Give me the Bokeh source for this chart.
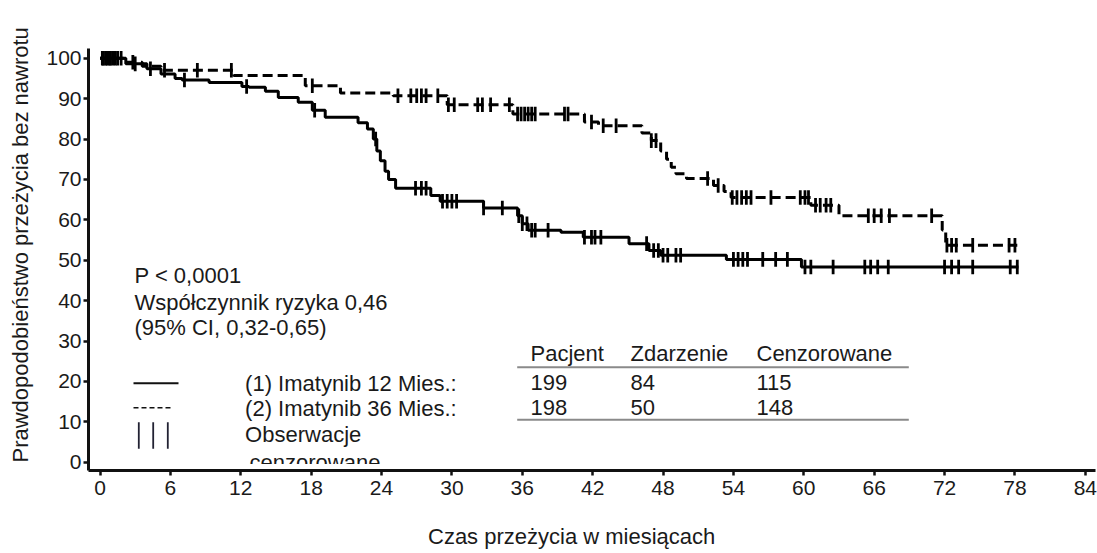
import numpy as np
from bokeh.plotting import figure
from bokeh.models import Range1d, FixedTicker, Title, ColumnDataSource
from bokeh.core.properties import value
from bokeh.embed import file_html
from bokeh.resources import INLINE

# ---------------- data ----------------
# Arm 1: Imatinib 12 months (solid)
times_12 = [0, 2.2, 4.0, 5.2, 6.4, 7.0, 9.3, 12.1, 12.7, 14.1, 15.2, 16.9, 18.1, 19.2,
            22.0, 22.8, 23.3, 23.6, 23.9, 24.3, 24.6, 25.2, 28.2, 29.0, 32.7, 35.6,
            36.0, 36.5, 39.3, 41.2, 45.1, 46.8, 47.8, 53.4, 59.8]
surv_12 = [100, 98.6, 97.4, 96.1, 95.0, 94.6, 94.0, 93.0, 92.8, 91.8, 90.3, 89.1, 87.1, 85.4,
           84.0, 82.5, 80.0, 77.0, 74.6, 72.0, 70.0, 67.8, 66.0, 64.6, 62.9, 61.0,
           59.0, 57.4, 56.9, 55.7, 54.1, 52.4, 51.2, 50.2, 48.3]
end_12 = 78.3
cens_12 = [0.3, 0.6, 0.9, 1.3, 1.8, 3.0, 4.3, 7.2, 12.5, 18.3, 23.5, 26.9, 27.4, 27.8,
           29.2, 29.6, 30.0, 30.4, 32.7, 34.3, 35.7, 36.0, 36.4, 36.8, 37.1, 38.2,
           41.3, 41.9, 42.2, 42.7, 46.6, 47.2, 47.6, 48.0, 48.4, 49.1, 49.5, 54.0,
           54.4, 54.8, 55.2, 56.5, 57.6, 58.6, 60.1, 60.6, 62.5, 65.2, 65.7, 66.3,
           67.2, 72.0, 72.6, 73.2, 74.4, 77.6, 78.2]

# Arm 2: Imatinib 36 months (dashed)
times_36 = [0, 2.0, 3.6, 5.2, 11.4, 17.5, 20.5, 25.0, 29.6, 35.2, 41.3, 42.5, 46.2,
            47.0, 47.8, 48.3, 48.7, 49.1, 50.0, 52.3, 53.2, 53.8, 60.6, 63.0, 71.8, 72.1]
surv_36 = [100, 99.0, 98.0, 97.0, 95.7, 93.2, 91.4, 90.7, 88.5, 86.2, 84.2, 83.3, 81.5,
           79.6, 77.0, 75.0, 73.0, 71.4, 70.2, 68.5, 67.0, 65.5, 63.6, 61.0, 57.5, 53.7]
end_36 = 78.2
cens_36 = [0.2, 0.5, 0.8, 1.1, 1.5, 2.8, 5.5, 8.3, 11.2, 18.1, 25.4, 26.5, 27.0, 27.4,
           27.8, 28.8, 29.7, 30.2, 32.2, 32.6, 33.3, 34.9, 35.6, 35.9, 36.2, 36.5,
           36.8, 37.1, 39.6, 39.9, 41.9, 42.9, 44.0, 47.0, 47.4, 51.8, 52.7, 53.9,
           54.3, 54.7, 55.1, 55.5, 57.2, 59.7, 60.1, 60.4, 61.0, 61.4, 61.9, 62.3,
           65.5, 66.0, 66.6, 67.3, 70.9, 72.2, 72.6, 73.0, 74.4, 77.5, 78.0]

x_ticks = list(range(0, 85, 6))
y_ticks = list(range(0, 101, 10))

stats_lines = ["P < 0,0001", "Współczynnik ryzyka 0,46", "(95% CI, 0,32-0,65)"]
arm_labels = ["(1) Imatynib 12 Mies.:", "(2) Imatynib 36 Mies.:"]
censor_label = ["Obserwacje", "cenzorowane"]
table_header = ["Pacjent", "Zdarzenie", "Cenzorowane"]
table_rows = [["199", "84", "115"], ["198", "50", "148"]]

x_label = "Czas przeżycia w miesiącach"
y_label = "Prawdopodobieństwo przeżycia bez nawrotu"

# ---------------- layout helpers (page pixel -> data) ----------------
X0, SX = 99.5, 11.73      # page x of month 0, px per month
Y0, SY = 461.7, 4.04      # page y of 0 %, px per %
FL, FR, FT, FB = 88, 1095, 48, 470   # frame edges in page px
W, H = 1097, 553
def tx(px):
    return (px - X0) / SX
def sy(py):
    return (Y0 - py) / SY

FONT = "Liberation Sans"
TXT = "#1a1a1a"

p = figure(width=W, height=H, output_backend="svg", toolbar_location=None,
           x_range=Range1d(tx(FL), tx(FR)), y_range=Range1d(sy(FB), sy(FT)),
           min_border_left=FL, min_border_right=W - FR, min_border_top=FT,
           min_border_bottom=H - FB,
           background_fill_color="white", border_fill_color="white")
p.outline_line_color = None
p.grid.visible = False

for ax in (p.xaxis[0], p.yaxis[0]):
    ax.axis_line_width = 3
    ax.axis_line_color = "#111111"
    ax.major_tick_line_width = 2.5
    ax.major_tick_line_color = "#111111"
    ax.major_tick_in = 0
    ax.major_tick_out = 5
    ax.minor_tick_out = 0
    ax.minor_tick_in = 0
    ax.major_label_text_font = FONT
    ax.major_label_text_font_size = "21px"
    ax.major_label_text_color = TXT
p.xaxis.ticker = FixedTicker(ticks=x_ticks)
p.yaxis.ticker = FixedTicker(ticks=y_ticks)
p.xaxis.major_label_standoff = 5
p.yaxis.major_label_standoff = 2

# ---------------- curves ----------------
def add_curve(times, surv, end, cens, dash):
    xs = list(times) + [end]
    ys = list(surv) + [surv[-1]]
    p.step(xs, ys, mode="after", line_color="black", line_width=3, line_dash=dash)
    t = np.array(times)
    s = np.array(surv)
    c = np.array(cens)
    idx = np.searchsorted(t, c, side="right") - 1
    cy = s[idx]
    p.segment(x0=c, y0=cy - 1.8, x1=c, y1=cy + 1.8, line_color="black", line_width=2.8)

add_curve(times_12, surv_12, end_12, cens_12, "solid")
add_curve(times_36, surv_36, end_36, cens_36, "10 5")

# ---------------- annotation texts ----------------
txt_x, txt_y, txt = [], [], []
for i, s_ in enumerate(stats_lines):
    txt_x.append(tx(134)); txt_y.append(sy([275, 301.7, 327.3][i])); txt.append(s_)
for i, s_ in enumerate(arm_labels):
    txt_x.append(tx(244.6)); txt_y.append(sy([382.7, 408][i])); txt.append(s_)
txt_x.append(tx(244.6)); txt_y.append(sy(434.3)); txt.append(censor_label[0])
txt_x.append(tx(249)); txt_y.append(sy(462)); txt.append(censor_label[1])
col_px = [530, 630, 756]
for j, h in enumerate(table_header):
    txt_x.append(tx(col_px[j])); txt_y.append(sy(353.3)); txt.append(h)
for i, row in enumerate(table_rows):
    for j, v in enumerate(row):
        txt_x.append(tx(col_px[j])); txt_y.append(sy([381.7, 407.3][i])); txt.append(v)

src = ColumnDataSource(dict(x=txt_x, y=txt_y, text=txt))
p.text(x="x", y="y", text="text", source=src, text_font=value(FONT),
       text_font_size=value("22px"), text_color=TXT, text_align="left",
       text_baseline="middle")

# the clipped second line of the censor legend
p.quad(left=tx(240), right=tx(400), bottom=sy(475), top=sy(463.5),
       fill_color="white", line_color=None)

# legend line samples
p.segment(x0=[tx(133)], y0=[sy(382.7)], x1=[tx(178)], y1=[sy(382.7)],
          line_color="#111111", line_width=2)
p.segment(x0=[tx(133)], y0=[sy(407.3)], x1=[tx(170)], y1=[sy(407.3)],
          line_color="#111111", line_width=1.5, line_dash="5 3")
bar_px = [138.3, 152.7, 167.3]
p.segment(x0=[tx(b) for b in bar_px], y0=[sy(421.7)] * 3,
          x1=[tx(b) for b in bar_px], y1=[sy(448.3)] * 3,
          line_color="#222233", line_width=1.8)

# table rules
p.segment(x0=[tx(516.7), tx(516.7)], y0=[sy(366.7), sy(419.3)],
          x1=[tx(908.3), tx(908.3)], y1=[sy(366.7), sy(419.3)],
          line_color="#8a8a8a", line_width=2)

# ---------------- axis titles (with spacer panels) ----------------
p.add_layout(Title(text=" ", text_font_size="1px", standoff=21), "below")
p.add_layout(Title(text=x_label, align="left", offset=427.5 - FL, standoff=0,
                   text_font=FONT, text_font_size="22px", text_font_style="normal",
                   text_color=TXT), "below")
p.add_layout(Title(text=" ", text_font_size="1px", standoff=8), "left")
p.add_layout(Title(text=y_label, align="left", offset=FB - 462, standoff=0,
                   text_font=FONT, text_font_size="22px", text_font_style="normal",
                   text_color=TXT), "left")

open("out.html", "w").write(file_html(p, INLINE))
